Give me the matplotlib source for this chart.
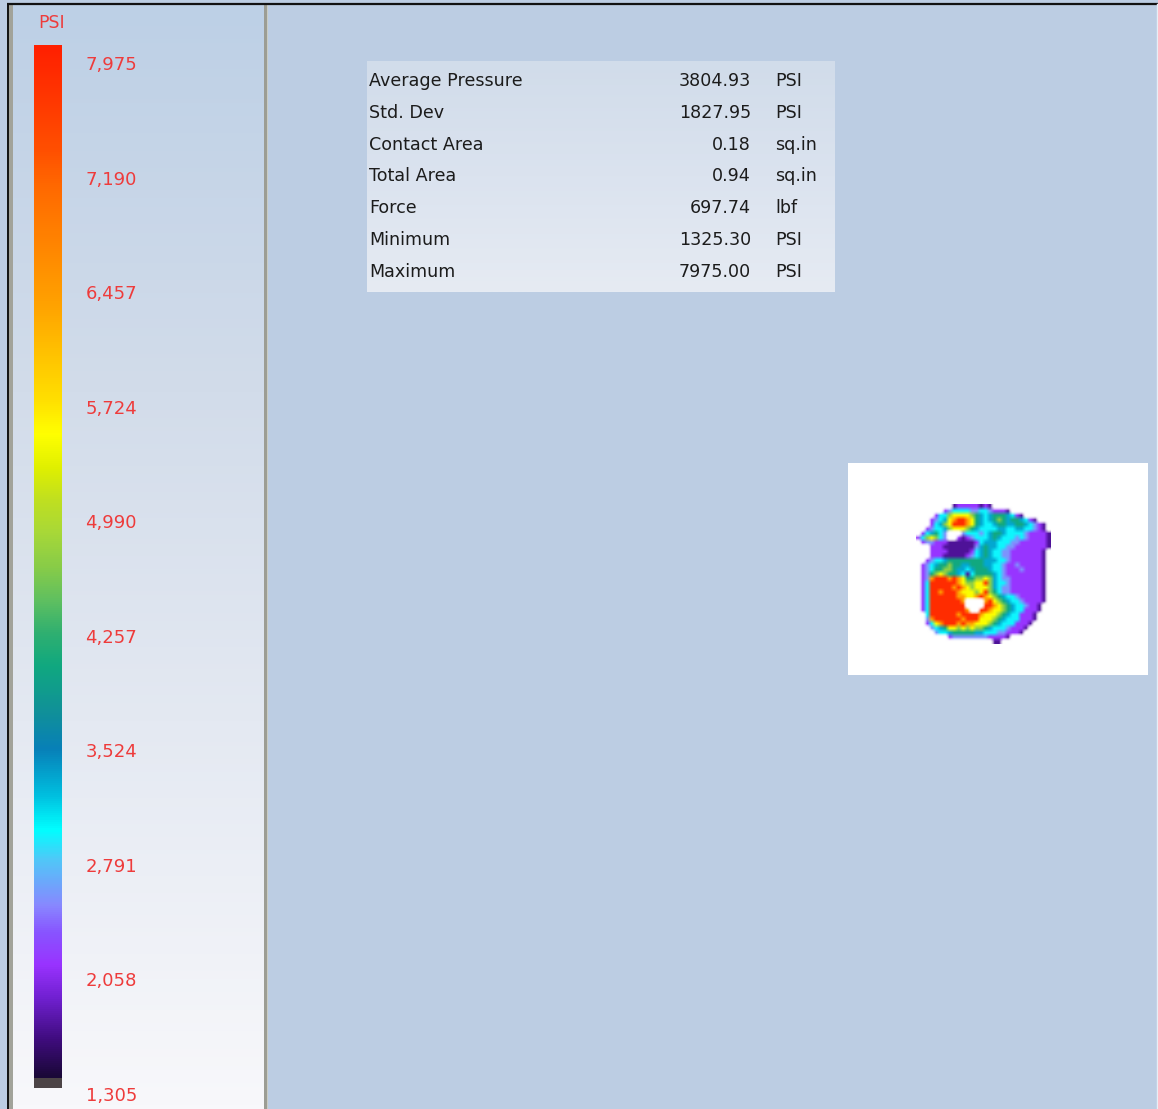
import numpy as np
import matplotlib
matplotlib.use("Agg")
import matplotlib.pyplot as plt
from matplotlib.colors import LinearSegmentedColormap, Normalize
from matplotlib.patches import Rectangle

W, H = 1158, 1109

# ---- pressure scale -------------------------------------------------------
scale_title = "PSI"
scale_min, scale_max = 1305.0, 7975.0
scale_labels = ["7,975", "7,190", "6,457", "5,724", "4,990",
                "4,257", "3,524", "2,791", "2,058", "1,305"]

# ---- frame statistics -----------------------------------------------------
stat_names = ["Average Pressure", "Std. Dev", "Contact Area", "Total Area",
              "Force", "Minimum", "Maximum"]
stat_values = [3804.93, 1827.95, 0.18, 0.94, 697.74, 1325.30, 7975.00]
stat_units = ["PSI", "PSI", "sq.in", "sq.in", "lbf", "PSI", "PSI"]

# ---- sensel readings (coarse), one code per cell, '.' = no contact ---------
level_psi = {"1": 1640, "2": 2050, "3": 2470, "4": 2870, "5": 3240,
             "6": 3970, "7": 4640, "8": 5440, "9": 6310, "R": 7780}
sensor_rows = [
    "..... ...12 22221 21... ..... .....",
    "..... .2344 44334 43222 1.... .....",
    "....2 44788 88765 45666 5421. .....",
    "...23 4589R R9865 45676 56654 21...",
    "...24 578RR R9865 44566 55665 4321.",
    "..234 45788 87654 44455 44554 4321.",
    ".2456 43... 34443 45665 44443 22221",
    "24787 43..2 12344 45654 44343 22221",
    ".2332 22111 11124 55544 43322 22221",
    "...22 21111 11135 65544 33222 22221",
    "...22 22111 11245 65443 32222 2221.",
    "...22 21111 12345 65443 32222 2221.",
    "..234 45666 66666 55544 32222 2221.",
    ".2345 66766 55666 55443 22322 2221.",
    ".2346 67765 54566 65443 22232 2221.",
    ".2367 87665 41466 66543 22222 2221.",
    ".239R RR9R9 86677 87543 32222 2221.",
    ".24RR RRRR9 87788 R7544 32222 2221.",
    ".24RR RRR9R 98788 87543 32222 2221.",
    ".24RR 9RRR9 88878 R7643 32222 2221.",
    ".24RR RRRR9 9889R 98765 44322 2221.",
    ".24RR RRRRR 9.... 9R876 54432 2221.",
    ".24RR RRRRR R.... RR987 65443 221..",
    ".24RR RRRRR R9..R R9887 65442 221..",
    "..4RR RRRR9 RRRR9 88876 54422 21...",
    "..39R RRRRR 9RRR8 88765 44422 21...",
    "..248 9RRR9 R9988 87654 44222 1....",
    "...34 56887 87877 65444 32221 .....",
    "....3 44566 66655 44433 2221. .....",
    "..... ..233 33333 32222 1.... .....",
    "..... ..... ..... ..11. ..... .....",
]

# ---- colour map of the pressure scale --------------------------------------
cmap_stops = [
    (0.000, "#1a0838"), (0.037, "#400c80"), (0.076, "#7020d0"),
    (0.109, "#9933ff"), (0.140, "#8855ff"), (0.166, "#8888ff"),
    (0.211, "#50c8f8"), (0.240, "#00ffff"), (0.272, "#00c0e0"),
    (0.318, "#0880b8"), (0.353, "#10909a"), (0.398, "#10a880"),
    (0.431, "#30b070"), (0.463, "#60c060"), (0.495, "#88cc48"),
    (0.528, "#a8d838"), (0.560, "#c0e020"), (0.591, "#e0f000"),
    (0.624, "#ffff00"), (0.656, "#ffe000"), (0.705, "#ffc000"),
    (0.753, "#ffa000"), (0.802, "#ff8800"), (0.866, "#ff6800"),
    (0.898, "#ff5000"), (0.947, "#ff3800"), (1.000, "#ff2000"),
]
cmap = LinearSegmentedColormap.from_list("pressure", cmap_stops, N=512)
cmap.set_under("#4c4446")
cmap.set_bad((1, 1, 1, 0))
norm = Normalize(vmin=scale_min, vmax=scale_max)

label_red = "#ee3b3b"
text_dark = "#1c1c1c"


def px_axes(fig, x, y, w, h, **kw):
    """Axes placed by pixel box (origin top-left)."""
    return fig.add_axes([x / W, 1 - (y + h) / H, w / W, h / H], **kw)


fig = plt.figure(figsize=(W / 100, H / 100), dpi=100)
fig.patch.set_facecolor("#bccde3")

# ---- frame / panels (pixel coordinates) ------------------------------------
bg = px_axes(fig, 0, 0, W, H)
bg.set_xlim(0, W)
bg.set_ylim(H, 0)
bg.axis("off")

panel_grad = LinearSegmentedColormap.from_list(
    "panel", [(0, "#bdd0e6"), (0.35, "#d2dcea"), (0.65, "#e4e9f2"), (1, "#f8f8fb")])
bg.imshow(np.linspace(0, 1, 256)[:, None], cmap=panel_grad, aspect="auto",
          extent=(12, 264, H, 4), zorder=1)
bg.add_patch(Rectangle((9, 4), 3.5, H, color="#a2a39a", zorder=2, lw=0))
bg.add_patch(Rectangle((264, 4), 4, H, color="#9c9d94", zorder=2, lw=0))
bg.add_patch(Rectangle((267, 4), 1.2, H, color="#c9ccc4", zorder=2, lw=0))
bg.plot([7, W], [3.5, 3.5], color="#111111", lw=1.6, zorder=3,
        solid_capstyle="butt")
bg.plot([7.5, 7.5], [3.5, H], color="#111111", lw=1.4, zorder=3,
        solid_capstyle="butt")
bg.plot([W - 1, W - 1], [3.5, H], color="#e8eef6", lw=1.0, zorder=3)

bg.text(38, 23, scale_title, color=label_red, fontsize=12.5,
        ha="left", va="center", zorder=4)

# ---- colour bar -------------------------------------------------------------
cb = px_axes(fig, 34, 45, 28, 1043)
px_per_psi = 1033 / (scale_max - scale_min)
cb_lo = scale_min - 10 / px_per_psi
grad = np.linspace(cb_lo, scale_max, 1043)[:, None]
cb.imshow(grad, cmap=cmap, norm=norm, aspect="auto", origin="lower",
          extent=(0, 1, cb_lo, scale_max), interpolation="nearest")
cb.set_xlim(0, 1)
cb.set_ylim(cb_lo, scale_max)
cb.axis("off")

# scale labels, evenly spaced down the bar
lab = px_axes(fig, 80, 63, 0.001, 1094 - 63)
lab.set_ylim(len(scale_labels) - 1, 0)
lab.set_yticks(range(len(scale_labels)))
lab.set_yticklabels(scale_labels)
lab.yaxis.tick_right()
lab.tick_params(axis="y", length=0, pad=4, labelsize=13, labelcolor=label_red)
lab.set_xticks([])
for s in lab.spines.values():
    s.set_visible(False)
lab.patch.set_visible(False)

# ---- statistics table -------------------------------------------------------
tb_x, tb_y, tb_w, tb_h = 367, 61, 468, 231
tb = px_axes(fig, tb_x, tb_y, tb_w, tb_h)
row_h = 31.83
top = (tb_y - 81) / row_h
bottom = (tb_y + tb_h - 81) / row_h
tb.set_xlim(0, tb_w)
tb.set_ylim(bottom, top)
tb_grad = LinearSegmentedColormap.from_list(
    "tbl", [(0, "#d1dcea"), (0.5, "#dbe3ef"), (1, "#e6ebf3")])
tb.imshow(np.linspace(0, 1, 128)[:, None], cmap=tb_grad, aspect="auto",
          extent=(0, tb_w, bottom, top))
for i, (name, val, unit) in enumerate(zip(stat_names, stat_values, stat_units)):
    tb.text(2, i, name, color=text_dark, fontsize=12.6, ha="left", va="center")
    tb.text(384, i, f"{val:.2f}", color=text_dark, fontsize=12.6,
            ha="right", va="center")
    tb.text(408, i, unit, color=text_dark, fontsize=12.6, ha="left", va="center")
tb.axis("off")

# ---- pressure map -----------------------------------------------------------
grid = np.array([[level_psi.get(c, np.nan) for c in r.replace(" ", "")]
                 for r in sensor_rows], dtype=float)
data = np.ma.masked_invalid(grid)
nrows, ncols = grid.shape
cell = 4.5
mp_x, mp_y, mp_w, mp_h = 848, 463, 300, 212
mp = px_axes(fig, mp_x, mp_y, mp_w, mp_h)
gx0 = (916 - mp_x) / cell
gy0 = (505 - mp_y) / cell
mp.set_facecolor("white")
mp.imshow(data, cmap=cmap, norm=norm, interpolation="bilinear",
          interpolation_stage="rgba", aspect="auto",
          extent=(0, ncols, nrows, 0))
mp.set_xlim(-gx0, mp_w / cell - gx0)
mp.set_ylim(mp_h / cell - gy0, -gy0)
mp.set_xticks([])
mp.set_yticks([])
for s in mp.spines.values():
    s.set_visible(False)

fig.savefig("out.png", dpi=100, facecolor=fig.get_facecolor())
